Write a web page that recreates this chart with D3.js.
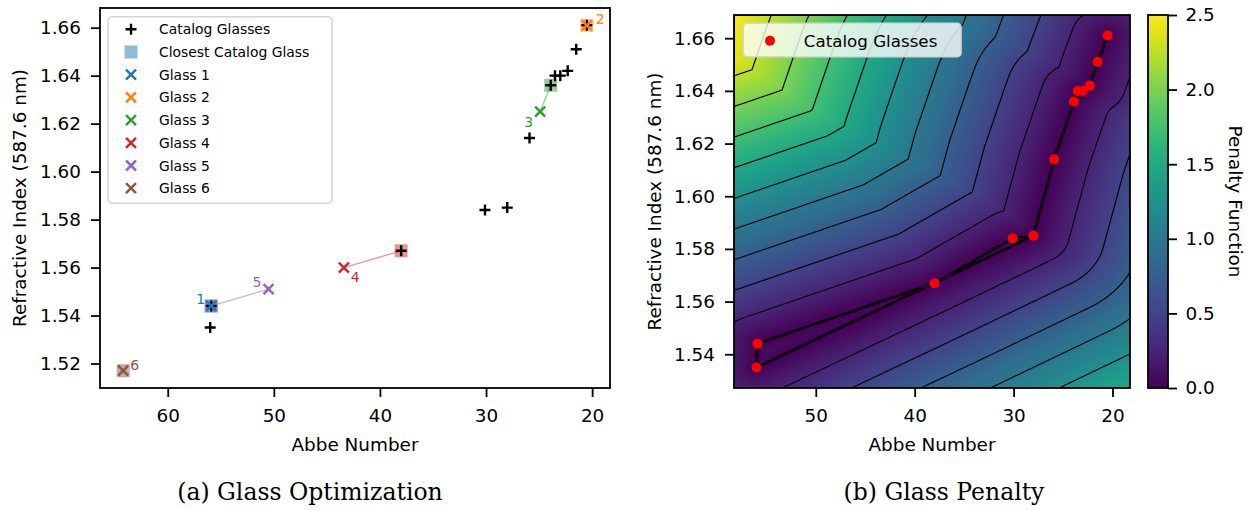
<!DOCTYPE html>
<html>
<head>
<meta charset="utf-8">
<script src="https://cdn.jsdelivr.net/npm/d3@7"></script>
<style>
  body { margin: 0; background: #fff; }
  svg { display: block; font-family: "DejaVu Sans", sans-serif; }
</style>
</head>
<body>
<svg id="fig" width="1253" height="510"></svg>
<script>
// catalog glasses: Abbe number and refractive index (587.6 nm)
const catalogAbbe  = [56.0, 55.9, 38.0, 30.1, 28.0, 25.9, 23.9, 23.5, 23.0, 22.3, 21.5, 20.5];
const catalogIndex = [1.535, 1.544, 1.567, 1.584, 1.585, 1.614, 1.636, 1.640, 1.640, 1.642, 1.651, 1.661];

// optimized glasses and the catalog glass each one is snapped to
const glassNames   = ["Glass 1", "Glass 2", "Glass 3", "Glass 4", "Glass 5", "Glass 6"];
const glassAbbe    = [55.9, 20.5, 24.9, 43.4, 50.5, 64.2];
const glassIndex   = [1.544, 1.661, 1.625, 1.560, 1.551, 1.517];
const closestAbbe  = [55.9, 20.5, 23.9, 38.0, 55.9, 64.2];
const closestIndex = [1.544, 1.661, 1.636, 1.567, 1.544, 1.517];

// ticks
const xTicksA = [60, 50, 40, 30, 20];
const yTicksA = [1.52, 1.54, 1.56, 1.58, 1.60, 1.62, 1.64, 1.66];
const xTicksB = [50, 40, 30, 20];
const yTicksB = [1.54, 1.56, 1.58, 1.60, 1.62, 1.64, 1.66];
const cbTicks = [0, 0.5, 1.0, 1.5, 2.0, 2.5];

// penalty: distance to the catalog network in normalised units
const abbeUnit = 14.44, indexUnit = 0.0427;
const penaltyMax = 2.5;
const contourLevels = [0.006, 0.25, 0.5, 0.75, 1.0, 1.25, 1.5, 1.75, 2.0, 2.25];

const colors = d3.schemeCategory10;
const FS = 18.4;

const svg = d3.select("#fig");
svg.append("rect").attr("width", 1253).attr("height", 510).attr("fill", "#fff");

// ---------- (a) glass optimization ----------
const A = { left: 100, top: 8, right: 610, bottom: 388 };
const WA = A.right - A.left, HA = A.bottom - A.top;
const allAbbe = catalogAbbe.concat(glassAbbe), allIndex = catalogIndex.concat(glassIndex);
function padded(ext, f) { const p = (ext[1] - ext[0]) * f; return [ext[0] - p, ext[1] + p]; }
const xExtA = padded(d3.extent(allAbbe), 0.05), yExtA = padded(d3.extent(allIndex), 0.05);
const xA = d3.scaleLinear().domain([xExtA[1], xExtA[0]]).range([0, WA]);
const yA = d3.scaleLinear().domain(yExtA).range([HA, 0]);

const ga = svg.append("g").attr("transform", `translate(${A.left},${A.top})`);

function styleAxis(g) {
  g.select(".domain").remove();
  g.selectAll(".tick line").attr("stroke", "#000").attr("stroke-width", 1.8);
  g.selectAll(".tick text").attr("fill", "#000").attr("font-size", FS).attr("font-family", "DejaVu Sans");
}

ga.append("g").attr("transform", `translate(0,${HA})`)
  .call(d3.axisBottom(xA).tickValues(xTicksA).tickFormat(d3.format("d")).tickSize(9).tickPadding(12))
  .call(styleAxis);
ga.append("g")
  .call(d3.axisLeft(yA).tickValues(yTicksA).tickFormat(d3.format(".2f")).tickSize(9).tickPadding(10))
  .call(styleAxis);

const plus = "M-5.5,0H5.5M0,-5.5V5.5";
const cross = "M-5,-5L5,5M-5,5L5,-5";
const glasses = glassAbbe.map((a, i) => ({ i, a, n: glassIndex[i], ca: closestAbbe[i], cn: closestIndex[i] }));

// links from each glass to its closest catalog glass
ga.selectAll(".link").data(glasses).enter().append("line")
  .attr("x1", d => xA(d.a)).attr("y1", d => yA(d.n))
  .attr("x2", d => xA(d.ca)).attr("y2", d => yA(d.cn))
  .attr("stroke", d => colors[d.i]).attr("stroke-opacity", 0.5).attr("stroke-width", 1.3);

ga.selectAll(".closest").data(glasses).enter().append("rect")
  .attr("x", d => xA(d.ca) - 6.5).attr("y", d => yA(d.cn) - 6.5)
  .attr("width", 13).attr("height", 13)
  .attr("fill", d => colors[d.i]).attr("fill-opacity", 0.5);

ga.selectAll(".cat").data(catalogAbbe).enter().append("path")
  .attr("d", plus).attr("transform", (d, i) => `translate(${xA(d)},${yA(catalogIndex[i])})`)
  .attr("stroke", "#000").attr("stroke-width", 2.4).attr("fill", "none");

ga.selectAll(".glass").data(glasses).enter().append("path")
  .attr("d", cross).attr("transform", d => `translate(${xA(d.a)},${yA(d.n)})`)
  .attr("stroke", d => colors[d.i]).attr("stroke-width", 2.5).attr("fill", "none");

// number labels beside each glass
const labelPos = [
  { dx: -6, dy: -2, anchor: "end" },
  { dx: 9, dy: -1, anchor: "start" },
  { dx: -7, dy: 15, anchor: "end" },
  { dx: 7, dy: 14, anchor: "start" },
  { dx: -7, dy: -2, anchor: "end" },
  { dx: 7, dy: -1, anchor: "start" }
];
ga.selectAll(".num").data(glasses).enter().append("text")
  .attr("x", d => xA(d.a) + labelPos[d.i].dx).attr("y", d => yA(d.n) + labelPos[d.i].dy)
  .attr("text-anchor", d => labelPos[d.i].anchor)
  .attr("font-size", 14).attr("fill", d => colors[d.i])
  .text(d => d.i + 1);

ga.append("rect").attr("width", WA).attr("height", HA)
  .attr("fill", "none").attr("stroke", "#000").attr("stroke-width", 1.8);

// legend (a)
const legA = ga.append("g").attr("transform", `translate(${108 - A.left},${16.7 - A.top})`);
legA.append("rect").attr("width", 224).attr("height", 186.5).attr("rx", 4)
  .attr("fill", "#fff").attr("fill-opacity", 0.8).attr("stroke", "#d5d5d5").attr("stroke-width", 1.6);
const legItems = [{ label: "Catalog Glasses", kind: "plus" }, { label: "Closest Catalog Glass", kind: "square" }]
  .concat(glassNames.map((g, i) => ({ label: g, kind: "cross", i })));
legItems.forEach((it, k) => {
  const cy = 12.6 + k * 22.7;
  const row = legA.append("g").attr("transform", `translate(0,${cy})`);
  if (it.kind === "plus") row.append("path").attr("d", plus).attr("transform", "translate(23,0)")
    .attr("stroke", "#000").attr("stroke-width", 2.4);
  if (it.kind === "square") row.append("rect").attr("x", 23 - 6.5).attr("y", -6.5).attr("width", 13).attr("height", 13)
    .attr("fill", colors[0]).attr("fill-opacity", 0.5);
  if (it.kind === "cross") row.append("path").attr("d", cross).attr("transform", "translate(23,0)")
    .attr("stroke", colors[it.i]).attr("stroke-width", 2.5);
  row.append("text").attr("x", 51).attr("y", 5).attr("font-size", 13.9).attr("fill", "#000").text(it.label);
});

ga.append("text").attr("x", WA / 2).attr("y", 451 - A.top).attr("text-anchor", "middle")
  .attr("font-size", FS).text("Abbe Number");
ga.append("text").attr("transform", `translate(${26 - A.left},${HA / 2}) rotate(-90)`)
  .attr("text-anchor", "middle").attr("font-size", FS).text("Refractive Index (587.6 nm)");

// ---------- (b) glass penalty ----------
const B = { left: 734, top: 15, right: 1130, bottom: 388 };
const WB = B.right - B.left, HB = B.bottom - B.top;
const xExtB = padded(d3.extent(catalogAbbe), 0.064), yExtB = padded(d3.extent(catalogIndex), 0.062);
const xB = d3.scaleLinear().domain([xExtB[1], xExtB[0]]).range([0, WB]);
const yB = d3.scaleLinear().domain(yExtB).range([HB, 0]);

// network: each catalog glass joined to its two nearest neighbours
const nodes = catalogAbbe.map((a, i) => [a / abbeUnit, catalogIndex[i] / indexUnit]);
const dist = (p, q) => Math.hypot(p[0] - q[0], p[1] - q[1]);
const links = [], seen = new Set();
nodes.forEach((p, i) => {
  d3.range(nodes.length).filter(j => j !== i)
    .sort((a, b) => dist(p, nodes[a]) - dist(p, nodes[b])).slice(0, 2)
    .forEach(j => {
      const key = Math.min(i, j) + "-" + Math.max(i, j);
      if (!seen.has(key)) { seen.add(key); links.push([nodes[i], nodes[j]]); }
    });
});
function segDist(px, py, a, b) {
  const vx = b[0] - a[0], vy = b[1] - a[1];
  let t = ((px - a[0]) * vx + (py - a[1]) * vy) / (vx * vx + vy * vy);
  t = Math.max(0, Math.min(1, t));
  return Math.hypot(px - a[0] - t * vx, py - a[1] - t * vy);
}
function penalty(abbe, n) {
  const px = abbe / abbeUnit, py = n / indexUnit;
  let m = Infinity;
  for (const [a, b] of links) m = Math.min(m, segDist(px, py, a, b));
  return m;
}

const gb = svg.append("g").attr("transform", `translate(${B.left},${B.top})`);
gb.append("clipPath").attr("id", "clipB").append("rect").attr("width", WB).attr("height", HB);

// heat map
const cv = document.createElement("canvas");
cv.width = WB; cv.height = HB;
const ctx = cv.getContext("2d");
const img = ctx.createImageData(WB, HB);
for (let j = 0; j < HB; j++) {
  const n = yB.invert(j + 0.5);
  for (let i = 0; i < WB; i++) {
    const c = d3.rgb(d3.interpolateViridis(Math.min(1, penalty(xB.invert(i + 0.5), n) / penaltyMax)));
    const k = (j * WB + i) * 4;
    img.data[k] = c.r; img.data[k + 1] = c.g; img.data[k + 2] = c.b; img.data[k + 3] = 255;
  }
}
ctx.putImageData(img, 0, 0);
gb.append("image").attr("href", cv.toDataURL()).attr("width", WB).attr("height", HB)
  .attr("preserveAspectRatio", "none");

// contour lines on a finer grid
const R = 2, nx = WB * R, ny = HB * R;
const grid = new Float64Array(nx * ny);
for (let j = 0; j < ny; j++) {
  const n = yB.invert((j + 0.5) / R);
  for (let i = 0; i < nx; i++) grid[j * nx + i] = penalty(xB.invert((i + 0.5) / R), n);
}
const contours = d3.contours().size([nx, ny]).thresholds(contourLevels)(grid);
const toPx = d3.geoPath(d3.geoTransform({ point(x, y) { this.stream.point(x / R, y / R); } }));
gb.append("g").attr("clip-path", "url(#clipB)")
  .selectAll("path").data(contours).enter().append("path")
  .attr("d", toPx).attr("fill", "none").attr("stroke", "#000").attr("stroke-width", 1.15);

gb.selectAll(".dot").data(catalogAbbe).enter().append("circle")
  .attr("cx", d => xB(d)).attr("cy", (d, i) => yB(catalogIndex[i])).attr("r", 5)
  .attr("fill", "#ff0000");

gb.append("g").attr("transform", `translate(0,${HB})`)
  .call(d3.axisBottom(xB).tickValues(xTicksB).tickFormat(d3.format("d")).tickSize(9).tickPadding(12))
  .call(styleAxis);
gb.append("g")
  .call(d3.axisLeft(yB).tickValues(yTicksB).tickFormat(d3.format(".2f")).tickSize(9).tickPadding(10))
  .call(styleAxis);

// legend (b)
const legB = gb.append("g").attr("transform", `translate(${743.3 - B.left},${23.3 - B.top})`);
legB.append("rect").attr("width", 217.7).attr("height", 33.4).attr("rx", 4)
  .attr("fill", "#fff").attr("fill-opacity", 0.8).attr("stroke", "#d5d5d5").attr("stroke-width", 1.6);
legB.append("circle").attr("cx", 26.7).attr("cy", 17.4).attr("r", 5).attr("fill", "#ff0000");
legB.append("text").attr("x", 60.5).attr("y", 23.4).attr("font-size", 16.7).text("Catalog Glasses");

gb.append("rect").attr("width", WB).attr("height", HB)
  .attr("fill", "none").attr("stroke", "#000").attr("stroke-width", 1.8);

gb.append("text").attr("x", WB / 2).attr("y", 451 - B.top).attr("text-anchor", "middle")
  .attr("font-size", FS).text("Abbe Number");
gb.append("text").attr("transform", `translate(${661 - B.left},${HB / 2}) rotate(-90)`)
  .attr("text-anchor", "middle").attr("font-size", FS).text("Refractive Index (587.6 nm)");

// colorbar
const cbX = 1148, cbW = 20;
const cbScale = d3.scaleLinear().domain([0, penaltyMax]).range([HB, 0]);
const grad = svg.append("defs").append("linearGradient").attr("id", "viridis")
  .attr("x1", 0).attr("y1", 1).attr("x2", 0).attr("y2", 0);
d3.range(0, 1.0001, 0.05).forEach(t => grad.append("stop")
  .attr("offset", t).attr("stop-color", d3.interpolateViridis(t)));
const gc = svg.append("g").attr("transform", `translate(${cbX},${B.top})`);
gc.append("rect").attr("width", cbW).attr("height", HB).attr("fill", "url(#viridis)");
gc.append("g").attr("transform", `translate(${cbW},0)`)
  .call(d3.axisRight(cbScale).tickValues(cbTicks).tickFormat(d3.format(".1f")).tickSize(9).tickPadding(8.5))
  .call(styleAxis);
gc.append("rect").attr("width", cbW).attr("height", HB)
  .attr("fill", "none").attr("stroke", "#000").attr("stroke-width", 1.8);
gc.append("text").attr("transform", `translate(${1229 - cbX},${HB / 2}) rotate(90)`)
  .attr("text-anchor", "middle").attr("font-size", FS).text("Penalty Function");

// captions
const capFont = "DejaVu Serif";
svg.append("text").attr("x", 310).attr("y", 500).attr("text-anchor", "middle")
  .attr("font-family", capFont).attr("font-size", 23.5).text("(a) Glass Optimization");
svg.append("text").attr("x", 944).attr("y", 500).attr("text-anchor", "middle")
  .attr("font-family", capFont).attr("font-size", 23.5).text("(b) Glass Penalty");
</script>
</body>
</html>
